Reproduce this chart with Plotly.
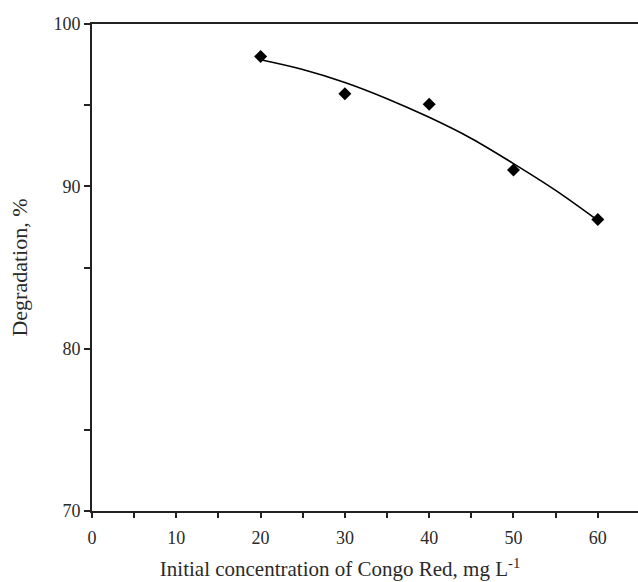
import plotly.graph_objects as go

# Measured data
conc = [20, 30, 40, 50, 60]
degradation = [98.0, 95.7, 95.05, 91.0, 87.95]

# Fitted curve
curve_x = [20, 25, 30, 35, 40, 45, 50, 55, 60]
curve_y = [97.8, 97.2, 96.4, 95.4, 94.25, 92.95, 91.4, 89.75, 87.9]

x_ticks = [0, 10, 20, 30, 40, 50, 60]
y_ticks = [70, 80, 90, 100]

x_title = "Initial concentration of Congo Red, mg L<sup>-1</sup>"
y_title = "Degradation, %"

font_family = "Liberation Serif, Times New Roman, serif"

fig = go.Figure()
fig.add_trace(go.Scatter(
    x=curve_x, y=curve_y, mode="lines",
    line=dict(color="black", width=1.6, shape="spline"),
    showlegend=False, hoverinfo="skip"))
fig.add_trace(go.Scatter(
    x=conc, y=degradation, mode="markers",
    marker=dict(symbol="diamond", color="black", size=10),
    showlegend=False))

fig.update_layout(
    width=638, height=582,
    margin=dict(l=92, r=0, t=24, b=71),
    paper_bgcolor="white", plot_bgcolor="white",
    font=dict(family=font_family, size=18, color="#2a2a2a"),
    title=dict(text=x_title, xref="container", yref="container",
               x=0.533, y=0.0223, xanchor="center", yanchor="middle",
               font=dict(family=font_family, size=21, color="#2a2a2a")),
    xaxis=dict(
        range=[0, 64.77], tickmode="array", tickvals=x_ticks,
        ticktext=[str(v) for v in x_ticks],
        ticks="outside", ticklen=5, tickwidth=1.5, tickcolor="#222",
        ticklabelstandoff=4,
        minor=dict(dtick=5, tick0=0, ticks="outside", ticklen=5, tickwidth=1.5, tickcolor="#222", showgrid=False),
        showline=True, linecolor="#222", linewidth=2, mirror=True,
        showgrid=False, zeroline=False,
    ),
    yaxis=dict(
        range=[70, 100], tickmode="array", tickvals=y_ticks,
        ticktext=[str(v) for v in y_ticks],
        ticks="outside", ticklen=6, tickwidth=1.5, tickcolor="#222",
        minor=dict(dtick=5, tick0=70, ticks="outside", ticklen=6, tickwidth=1.5, tickcolor="#222", showgrid=False),
        showline=True, linecolor="#222", linewidth=2, mirror=False,
        showgrid=False, zeroline=False,
        title=dict(text=y_title, standoff=20),
    ),
)

fig.write_html("out.html", config={"displayModeBar": False},
               post_script="document.body.style.margin='0';")
